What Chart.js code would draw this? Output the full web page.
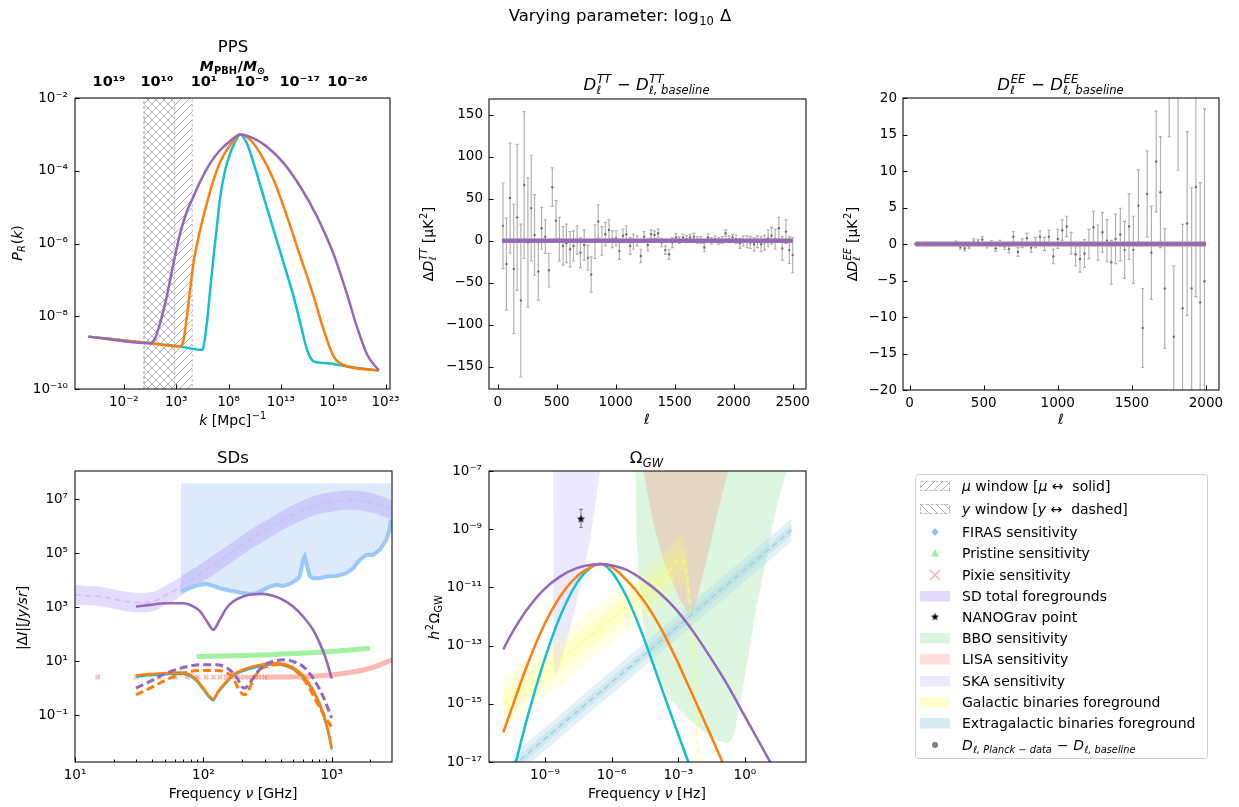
<!DOCTYPE html>
<html>
<head>
<meta charset="utf-8">
<title>Varying parameter: log10 Delta</title>
<script src="https://cdn.jsdelivr.net/npm/chart.js@4.4.1/dist/chart.umd.min.js"></script>
<style>
  html, body { margin:0; padding:0; background:#ffffff; }
  #wrap { position:relative; width:1239px; height:807px; overflow:hidden; background:#fff; }
  #wrap canvas { position:absolute; left:0; top:0; }
</style>
</head>
<body>
<div id="wrap">
  <canvas id="cPPS" width="1239" height="807"></canvas>
  <canvas id="cTT" width="1239" height="807"></canvas>
  <canvas id="cEE" width="1239" height="807"></canvas>
  <canvas id="cSD" width="1239" height="807"></canvas>
  <canvas id="cGW" width="1239" height="807"></canvas>
  <canvas id="cLeg" width="1239" height="807"></canvas>
</div>
<script>
// ======================= DATA =======================
// ---- PPS panel (log10 k [1/Mpc], log10 P_R) ----
const ppsXTickExp = [-2, 3, 8, 13, 18, 23];
const ppsYTickExp = [-10, -8, -6, -4, -2];
const pbhTickLogK = [-3.42, 1.15, 5.65, 10.24, 14.81, 19.36];
const pbhTickExp  = [19, 10, 1, -8, -17, -26];
const ppsPurpleLogK = [-5.39, 0.51, 0.99, 1.46, 2.10, 2.74, 3.38, 4.02, 4.65, 5.29, 6.25, 7.21, 8.16, 9.12, 10.40, 11.67, 13.27, 14.86, 16.46, 18.05, 19.33, 20.28, 21.24, 22.36];
const ppsPurpleLogP = [-8.56, -8.74, -8.60, -8.19, -7.46, -6.54, -5.72, -5.12, -4.71, -4.30, -3.79, -3.43, -3.18, -3.00, -3.11, -3.34, -3.79, -4.44, -5.26, -6.30, -7.40, -8.30, -9.05, -9.49];
const ppsOrangeLogK = [-5.39, 0.51, 3.38, 3.70, 4.02, 4.33, 4.65, 5.29, 5.93, 6.57, 7.21, 8.16, 9.12, 10.08, 11.03, 12.31, 13.59, 14.86, 16.14, 17.09, 18.05, 19.01, 22.36];
const ppsOrangeLogP = [-8.56, -8.74, -8.83, -8.65, -8.01, -7.27, -6.54, -5.63, -4.89, -4.25, -3.75, -3.29, -3.00, -3.15, -3.52, -4.25, -5.26, -6.36, -7.46, -8.37, -9.11, -9.34, -9.49];
const ppsCyanLogK = [-5.39, 0.51, 3.38, 5.29, 5.45, 5.61, 5.93, 6.25, 6.57, 6.89, 7.21, 7.68, 8.16, 8.64, 9.12, 9.76, 10.40, 11.35, 12.31, 13.27, 14.22, 14.86, 15.50, 16.14, 17.41, 19.33, 22.36];
const ppsCyanLogP = [-8.56, -8.74, -8.83, -8.92, -8.92, -8.83, -8.19, -7.27, -6.36, -5.53, -4.71, -3.98, -3.52, -3.20, -3.00, -3.25, -3.79, -4.71, -5.63, -6.54, -7.46, -8.19, -8.92, -9.24, -9.29, -9.38, -9.49];
const muWindowLogK = [-0.07, 4.53];
const yWindowLogK  = [-0.07, 2.85];

// ---- TT residuals ----
const ttEll = [45,74,105,136,165,196,224,256,284,312,344,372,403,434,463,494,523,554,582,613,642,673,701,733,764,792,824,852,883,912,943,971,1003,1031,1062,1090,1122,1150,1181,1213,1241,1272,1300,1329,1360,1389,1420,1452,1480,1511,1540,1571,1600,1631,1662,1691,1722,1751,1782,1811,1842,1871,1902,1931,1962,1990,2020,2053,2081,2113,2141,2173,2201,2232,2261,2292,2321,2352,2383,2412,2443,2472,2500];
const ttDelta = [17.9,-27.5,51,-33.4,28,-71,66.5,-2,39,7,-36.5,15,5,-35,64,24,2,-6,-3,-10,-6,1,-14,-5,-20,-40,-1,23,0,8,13,2,3,-12,6,8,-6,-1,0,-18,5,-5,8,7,9,-2,-11,-16,-2,4,1,4,2,4,5,1,1,-8,4,0,2,0,1,9,2,4,2,-3,0,-1,-2,-4,-1,-4,-2,3,6,2,15,-9,11,-11,-17];
const ttErr = [51,55,65.5,77,87,91,87.5,77,63,48,34,25,20,20,23,24,26,23,23,21,18,17,18,18,15,21,20,20,17,14,12,10,9,10,8,10,10,9,6,8,6,7,5,5,5,5,5,6,6,5,4,4,4,4,4,4,4,5,4,4,4,4,4,4,4,4,5,6,6,7,7,8,7,9,9,10,10,12,13,14,14,16,21];
const ttModelEll = [36, 2500];
const modelZero = [0, 0];
const ttXTicks = [0, 500, 1000, 1500, 2000, 2500];
const ttYTicks = [-150, -100, -50, 0, 50, 100, 150];

// ---- EE residuals ----
const eeEll = [40,70,100,130,160,190,220,250,280,312,343,372,401,433,462,491,522,552,581,610,641,670,700,731,760,791,820,850,880,910,940,970,1000,1030,1060,1090,1120,1150,1180,1210,1241,1271,1301,1332,1361,1390,1422,1451,1481,1510,1544,1573,1603,1632,1664,1693,1722,1752,1783,1812,1842,1873,1903,1932,1961,1990];
const eeDelta = [0,0,0,0,0,0.05,0,0.05,0,0.2,-0.4,-0.6,-0.3,0.3,0.3,0.6,-0.2,0.1,-0.6,0.1,-0.3,-0.7,1.0,-1.1,0.1,0.8,-0.5,0.2,1.0,0.0,1.0,-1.7,0.7,1.9,2.4,0.1,-1.4,-2.05,-1.3,0.0,2.3,0.2,1.6,0.45,-2.5,0.7,1.3,-0.8,2.4,-0.8,5.25,-11.5,6.85,-1.2,11.3,7.1,-6.1,23.2,-12.7,20.6,-8.8,2.8,-6.1,7.8,-8.0,-5.1];
const eeErr = [0.1,0.1,0.1,0.1,0.1,0.1,0.1,0.12,0.15,0.2,0.3,0.35,0.35,0.4,0.35,0.4,0.35,0.35,0.4,0.4,0.45,0.5,0.7,0.6,0.6,0.7,0.6,0.7,0.8,0.9,0.9,1.0,1.3,1.4,1.4,1.5,1.6,1.8,1.9,2.0,2.2,2.4,2.7,2.9,3.0,3.4,3.6,3.9,4.5,4.6,4.95,5.4,5.9,6.4,6.9,7.6,8.2,8.5,9.7,10.5,11.5,12.6,13.8,15,16.4,23.6];
const eeModelEll = [40, 2000];
const eeXTicks = [0, 500, 1000, 1500, 2000];
const eeYTicks = [-20, -15, -10, -5, 0, 5, 10, 15, 20];

// ---- SDs panel (log10 nu [GHz], log10 |dI| [Jy/sr]) ----
const sdXTickExp = [1, 2, 3];
const sdYTickExp = [-1, 1, 3, 5, 7];
const sdMinorNu = [20,30,40,50,60,70,80,90,200,300,400,500,600,700,800,900,2000];
const firasLogNu = [1.825,1.869,1.921,1.973,2.025,2.077,2.128,2.206,2.284,2.362,2.414,2.466,2.518,2.569,2.621,2.673,2.725,2.751,2.764,2.777,2.790,2.803,2.829,2.855,2.907,2.958,3.036,3.114,3.166,3.218,3.270,3.322,3.374,3.425,3.451,3.464];
const firasLogI  = [3.58,3.667,3.765,3.827,3.864,3.79,3.704,3.617,3.543,3.494,3.519,3.642,3.765,3.827,3.79,3.864,4.012,4.136,4.444,4.753,4.877,4.63,4.16,4.074,4.074,4.136,4.16,4.26,4.444,4.753,4.938,4.938,5.123,5.49,5.864,6.235];
const firasTopLogI = 7.59;
const fgLogNu = [1.0,1.09,1.195,1.30,1.40,1.51,1.61,1.69,1.765,1.84,1.92,2.0,2.10,2.23,2.36,2.49,2.62,2.75,2.88,3.01,3.14,3.27,3.37,3.47];
const fgCenterLogI = [3.46,3.43,3.40,3.30,3.21,3.17,3.21,3.40,3.58,3.83,4.07,4.32,4.63,5.06,5.49,5.86,6.23,6.54,6.79,6.91,6.98,6.91,6.79,6.60];
const fgUpperLogI  = [3.82,3.79,3.76,3.66,3.57,3.53,3.57,3.76,3.94,4.19,4.43,4.68,4.99,5.42,5.85,6.22,6.59,6.90,7.15,7.27,7.34,7.27,7.15,6.96];
const fgLowerLogI  = [3.10,3.07,3.04,2.94,2.85,2.81,2.85,3.04,3.22,3.47,3.71,3.96,4.27,4.70,5.13,5.50,5.87,6.18,6.43,6.55,6.62,6.55,6.43,6.24];
const pristineLogNu = [1.947,2.232,2.492,2.751,3.01,3.166,3.3];
const pristineLogI  = [1.173,1.198,1.235,1.296,1.358,1.42,1.481];
const pixieMarkNu = [15,30,45,60,75,90,105,120,135,150,165,180,195,210,225,240,255,270,285,300];
const pixieLevelLogI = 0.407;
const pixieLineLogNu = [2.48,2.75,2.88,3.01,3.14,3.27,3.374,3.47];
const pixieLineLogI  = [0.407,0.42,0.45,0.494,0.58,0.70,0.864,1.05];
const sdPurpleSolidLogNu = [1.475,1.584,1.713,1.843,1.921,1.973,2.038,2.077,2.128,2.18,2.232,2.31,2.388,2.466,2.543,2.621,2.699,2.777,2.855,2.907,2.958,3.0];
const sdPurpleSolidLogI  = [3.025,3.086,3.148,3.148,3.03,2.85,2.40,2.16,2.53,2.963,3.21,3.395,3.48,3.494,3.42,3.272,3.025,2.654,2.16,1.667,1.049,0.35];
const sdSolidLogNu = [1.475,1.584,1.713,1.817,1.895,1.947,1.999,2.038,2.077,2.115,2.18,2.232,2.31,2.388,2.492,2.569,2.647,2.725,2.803,2.881,2.933,2.971,3.0];
const sdOrangeSolidLogI = [0.469,0.519,0.556,0.58,0.494,0.309,0.0,-0.247,-0.407,-0.123,0.247,0.494,0.679,0.802,0.901,0.926,0.864,0.679,0.309,-0.309,-0.926,-1.543,-2.222];
const sdCyanSolidLogI   = [0.42,0.47,0.51,0.53,0.45,0.26,-0.05,-0.30,-0.46,-0.17,0.20,0.45,0.63,0.75,0.85,0.88,0.81,0.63,0.26,-0.36,-0.98,-1.60,-2.28];
const sdPurpleDashLogNu = [1.475,1.584,1.713,1.843,1.973,2.102,2.18,2.232,2.271,2.297,2.323,2.362,2.414,2.492,2.543,2.621,2.699,2.777,2.855,2.933,3.0];
const sdPurpleDashLogI  = [0.0,0.247,0.556,0.765,0.864,0.864,0.765,0.556,0.309,0.062,0.0,0.185,0.556,0.901,0.988,1.049,0.988,0.802,0.37,-0.309,-1.111];
const sdOrangeDashLogNu = [1.475,1.584,1.713,1.843,1.973,2.102,2.18,2.232,2.271,2.297,2.323,2.349,2.388,2.44,2.492,2.569,2.647,2.725,2.803,2.881,2.946,3.0];
const sdOrangeDashLogI  = [-0.247,0.0,0.309,0.556,0.654,0.654,0.58,0.37,0.0,-0.185,-0.247,-0.123,0.309,0.679,0.802,0.864,0.827,0.617,0.185,-0.494,-1.049,-1.444];

// ---- Omega_GW panel (log10 f [Hz], log10 h^2 Omega) ----
const gwXTickExp = [-9, -6, -3, 0];
const gwYTickExp = [-17, -15, -13, -11, -9, -7];
const gwPurpleLogF = [-10.875,-10.575,-9.825,-9.075,-8.325,-7.575,-6.825,-6.525,-6.075,-5.325,-4.575,-3.825,-3.075,-2.325,-1.575,-0.825,-0.075,0.675,1.28];
const gwPurpleLogO = [-13.13,-12.69,-11.78,-11.09,-10.63,-10.34,-10.21,-10.20,-10.23,-10.40,-10.75,-11.20,-11.78,-12.52,-13.38,-14.30,-15.33,-16.36,-17.2];
const gwOrangeLogF = [-10.875,-10.575,-9.825,-9.075,-8.325,-7.575,-6.825,-6.525,-6.075,-5.325,-4.575,-3.825,-3.075,-2.325,-1.575,-0.90];
const gwOrangeLogO = [-15.98,-15.33,-13.72,-12.35,-11.32,-10.63,-10.26,-10.20,-10.26,-10.75,-11.43,-12.35,-13.49,-14.75,-16.02,-17.2];
const gwCyanLogF = [-10.375,-9.825,-9.075,-8.325,-7.575,-6.975,-6.525,-6.075,-5.325,-4.575,-3.825,-3.075,-2.45];
const gwCyanLogO = [-17.2,-15.56,-13.61,-12.01,-10.86,-10.34,-10.20,-10.40,-11.32,-12.69,-14.30,-15.90,-17.2];
const skaLogF = [-8.63,-8.62,-8.58,-8.52,-8.325,-8.175,-7.875,-7.575,-7.275,-6.975,-6.75,-6.525,-6.40];
const skaLogO = [-6.5,-13.5,-13.95,-14.05,-13.66,-13.26,-12.41,-11.49,-10.52,-9.37,-8.23,-7.0,-6.5];
const bboLogF = [-4.93,-4.92,-4.875,-4.725,-4.575,-4.275,-3.825,-3.075,-2.325,-1.575,-0.825,-0.6,-0.45,-0.225,0.075,0.525,0.975,1.425,1.875,2.0];
const bboLogO = [-6.5,-7.0,-9.37,-11.09,-12.23,-13.38,-14.30,-15.10,-15.67,-16.13,-16.36,-16.25,-15.90,-14.98,-13.72,-11.66,-9.94,-8.23,-7.0,-6.5];
const lisaLogF = [-4.58,-4.575,-4.125,-3.675,-3.225,-2.925,-2.625,-2.43,-2.25,-2.175,-1.875,-1.575,-1.275,-0.975,-0.75,-0.62];
const lisaLogO = [-6.5,-7.0,-8.80,-10.06,-10.86,-11.43,-11.78,-11.95,-11.66,-11.43,-10.52,-9.60,-8.57,-7.65,-7.0,-6.5];
const galLogF = [-10.875,-9.075,-7.575,-6.075,-4.575,-3.675,-3.225,-3.0,-2.85,-2.70,-2.55,-2.445,-2.355,-2.25,-2.145,-2.055];
const galCenterLogO  = [-14.98,-13.95,-13.04,-12.12,-11.20,-10.63,-10.29,-10.06,-10.04,-10.29,-10.97,-11.89,-13.04,-14.53,-16.24,-17.27];
const galOuterUpLogO = [-14.11,-13.10,-12.20,-11.28,-10.36,-9.80,-9.46,-9.25,-9.22,-9.50,-10.30,-11.30,-12.60,-14.20,-16.00,-17.20];
const galOuterLoLogO = [-15.82,-14.79,-13.88,-12.96,-12.04,-11.47,-11.13,-10.90,-10.88,-11.10,-11.70,-12.50,-13.50,-14.90,-16.50,-17.40];
const galInnerUpLogO = [-14.56,-13.53,-12.62,-11.70,-10.78,-10.21,-9.87,-9.64,-9.62,-9.88,-10.60,-11.60,-12.80,-14.35,-16.10,-17.25];
const galInnerLoLogO = [-15.40,-14.37,-13.46,-12.54,-11.62,-11.05,-10.71,-10.48,-10.46,-10.70,-11.35,-12.20,-13.30,-14.70,-16.40,-17.35];
const egLogF = [-10.45, 2.10];
const egCenterLogO  = [-17.14, -9.03];
const egOuterUpLogO = [-16.74, -8.63];
const egOuterLoLogO = [-17.54, -9.43];
const egInnerUpLogO = [-16.96, -8.85];
const egInnerLoLogO = [-17.32, -9.21];
const nanoLogF = [-7.38];
const nanoLogO = [-8.65];
const nanoLoLogO = [-8.94];
const nanoHiLogO = [-8.32];

// ======================= HELPERS =======================
const FONT = '"DejaVu Sans", "Liberation Sans", sans-serif';
Chart.defaults.font.family = FONT;
const W = 1239, H = 807;
const C_PURPLE = '#9467bd', C_ORANGE = '#ff7f0e', C_CYAN = '#17becf';
const SUPMAP = {'0':'⁰','1':'¹','2':'²','3':'³','4':'⁴','5':'⁵','6':'⁶','7':'⁷','8':'⁸','9':'⁹','-':'⁻'};
const pow10Label = e => '10' + String(e).split('').map(c => SUPMAP[c]).join('');
const expOf = v => Math.round(Math.log10(v));
const L = v => Math.pow(10, v);
const pts = (xs, ys) => xs.map((x, i) => ({x: x, y: ys[i]}));
const ptsLog = (xs, ys) => xs.map((x, i) => ({x: L(x), y: L(ys[i])}));

function fnt(size, it, b) { return (it ? 'italic ' : '') + (b ? 'bold ' : '') + size.toFixed(2) + 'px ' + FONT; }
function drawRich(ctx, segs, x, y, size, align, rot, color) {
  ctx.save();
  ctx.translate(x, y);
  if (rot) ctx.rotate(rot);
  ctx.textBaseline = 'alphabetic'; ctx.textAlign = 'left'; ctx.fillStyle = color || '#000';
  const ss = size * 0.7;
  let w = 0; const pos = [];
  segs.forEach(s => {
    pos.push(w);
    if (s.t !== undefined) { ctx.font = fnt(size, s.i, s.b); w += ctx.measureText(s.t).width; }
    else {
      ctx.font = fnt(ss, s.i, s.b);
      const a = s.sup ? ctx.measureText(s.sup).width : 0;
      const b = s.sub ? ctx.measureText(s.sub).width : 0;
      w += Math.max(a, b) + size * 0.08;
    }
  });
  const x0 = align === 'left' ? 0 : (align === 'right' ? -w : -w / 2);
  segs.forEach((s, k) => {
    const px = x0 + pos[k];
    if (s.t !== undefined) { ctx.font = fnt(size, s.i, s.b); ctx.fillText(s.t, px, 0); }
    else {
      ctx.font = fnt(ss, s.i, s.b);
      if (s.sup) ctx.fillText(s.sup, px + size * 0.04, -size * 0.40);
      if (s.sub) ctx.fillText(s.sub, px + size * 0.02, size * 0.22);
    }
  });
  ctx.restore();
}

function axisCommon(pos, size, pad, fontOpts) {
  return {
    position: pos, bounds: 'data',
    grid: { display: false, drawTicks: false }, border: { display: false },
    ticks: { color: '#000', font: Object.assign({ family: FONT, size: 13.5 }, fontOpts || {}), padding: pad, autoSkip: false, maxRotation: 0, minRotation: 0 },
    afterFit: s => {
      if (pos === 'left' || pos === 'right') s.width = size; else s.height = size;
      s.paddingLeft = 0; s.paddingRight = 0; s.paddingTop = 0; s.paddingBottom = 0;
    }
  };
}
function logAxis(pos, size, pad, minE, maxE, tickE, labels, fontOpts) {
  const a = axisCommon(pos, size, pad, fontOpts);
  a.type = 'logarithmic'; a.min = L(minE); a.max = L(maxE);
  a.afterBuildTicks = s => { s.ticks = tickE.map(e => ({ value: L(e) })); };
  a.ticks.callback = (v, i) => labels ? pow10Label(labels[i]) : pow10Label(expOf(v));
  return a;
}
function linAxis(pos, size, pad, min, max, ticks) {
  const a = axisCommon(pos, size, pad);
  a.type = 'linear'; a.min = min; a.max = max;
  a.afterBuildTicks = s => { s.ticks = ticks.map(v => ({ value: v })); };
  a.ticks.callback = v => String(v).replace('-', '−');
  return a;
}
function ds(data, color, width, extra) {
  return Object.assign({
    type: 'line', data: data, borderColor: color, backgroundColor: color, borderWidth: width,
    pointRadius: 0, pointHoverRadius: 0, fill: false, cubicInterpolationMode: 'monotone',
    capBezierPoints: false, clip: 0, order: 5
  }, extra || {});
}
function framePlugin(minorX) {
  return { id: 'frame', afterDatasetsDraw(chart) {
    const ctx = chart.ctx, a = chart.chartArea, xs = chart.scales.x, ys = chart.scales.y;
    ctx.save(); ctx.strokeStyle = '#000'; ctx.lineWidth = 1; ctx.beginPath();
    xs.ticks.forEach(t => { const p = Math.round(xs.getPixelForValue(t.value)) + 0.5; ctx.moveTo(p, a.bottom); ctx.lineTo(p, a.bottom - 4.5); });
    ys.ticks.forEach(t => { const p = Math.round(ys.getPixelForValue(t.value)) + 0.5; ctx.moveTo(a.left, p); ctx.lineTo(a.left + 4.5, p); });
    (minorX || []).forEach(v => { const p = Math.round(xs.getPixelForValue(v)) + 0.5; ctx.moveTo(p, a.bottom); ctx.lineTo(p, a.bottom - 2.5); });
    ctx.stroke();
    ctx.lineWidth = 1.1; ctx.strokeStyle = '#111';
    ctx.strokeRect(a.left, a.top, a.right - a.left, a.bottom - a.top);
    ctx.restore();
  } };
}
function errorBarPlugin(xs, lo, hi, color, width, cap) {
  return { id: 'errbars', beforeDatasetsDraw(chart) {
    const ctx = chart.ctx, a = chart.chartArea, sx = chart.scales.x, sy = chart.scales.y;
    ctx.save(); ctx.beginPath(); ctx.rect(a.left, a.top, a.right - a.left, a.bottom - a.top); ctx.clip();
    ctx.strokeStyle = color; ctx.lineWidth = width; ctx.beginPath();
    xs.forEach((xv, i) => {
      const px = sx.getPixelForValue(xv), p1 = sy.getPixelForValue(hi[i]), p2 = sy.getPixelForValue(lo[i]);
      ctx.moveTo(px, p1); ctx.lineTo(px, p2);
      ctx.moveTo(px - cap, p1); ctx.lineTo(px + cap, p1);
      ctx.moveTo(px - cap, p2); ctx.lineTo(px + cap, p2);
    });
    ctx.stroke(); ctx.restore();
  } };
}
function textPlugin(items) {
  return { id: 'texts', afterDraw(chart) {
    items.forEach(it => drawRich(chart.ctx, it.segs, it.x, it.y, it.size, it.align || 'center', it.rot || 0));
  } };
}
function makeHatch(dir) {
  const s = 8, c = document.createElement('canvas'); c.width = s; c.height = s;
  const g = c.getContext('2d'); g.strokeStyle = 'rgba(175,175,175,0.95)'; g.lineWidth = 1; g.beginPath();
  for (let k = -1; k <= 1; k++) {
    if (dir === '/') { g.moveTo(k * s, s); g.lineTo(k * s + s, 0); }
    else { g.moveTo(k * s, 0); g.lineTo(k * s + s, s); }
  }
  g.stroke();
  return g.createPattern(c, 'repeat');
}
function starCanvas(r, color) {
  const s = Math.ceil(r * 2 + 2), c = document.createElement('canvas'); c.width = s; c.height = s;
  const g = c.getContext('2d'); g.fillStyle = color; g.beginPath();
  for (let i = 0; i < 10; i++) {
    const ang = -Math.PI / 2 + i * Math.PI / 5, rr = (i % 2) ? r * 0.42 : r;
    g.lineTo(s / 2 + rr * Math.cos(ang), s / 2 + rr * Math.sin(ang));
  }
  g.closePath(); g.fill();
  return c;
}
function makeChart(id, area, scales, datasets, plugins, topH) {
  return new Chart(document.getElementById(id), {
    type: 'line',
    data: { datasets: datasets },
    options: {
      responsive: false, maintainAspectRatio: false, animation: false, devicePixelRatio: 1, events: [],
      layout: { autoPadding: false, padding: { left: 0, right: W - area.r, top: area.t - (topH || 0), bottom: 0 } },
      plugins: { legend: { display: false }, tooltip: { enabled: false }, title: { display: false } },
      scales: scales
    },
    plugins: plugins
  });
}
const hatchMu = makeHatch('/');
const hatchY = makeHatch('\\');
const starImg = starCanvas(4.2, '#000');

// ======================= PPS =======================
const A_PPS = { l: 75, t: 98, r: 390, b: 389 };
const ppsMin = -6.67, ppsMax = 23.43;
const winRect = (k) => [{x: L(k[0]), y: 1e-10}, {x: L(k[0]), y: 1e-2}, {x: L(k[1]), y: 1e-2}, {x: L(k[1]), y: 1e-10}];
makeChart('cPPS', A_PPS, {
  x: logAxis('bottom', H - A_PPS.b, 5, ppsMin, ppsMax, ppsXTickExp),
  x2: logAxis('top', 30, 7, ppsMin, ppsMax, pbhTickLogK, pbhTickExp, { weight: 'bold', size: 14.5 }),
  y: logAxis('left', A_PPS.l, 7, -10, -2, ppsYTickExp)
}, [
  ds(winRect(muWindowLogK), 'rgba(180,180,180,0.9)', 1, { fill: 'start', backgroundColor: hatchMu, borderDash: [3, 2], tension: 0, cubicInterpolationMode: 'default', order: 11 }),
  ds(winRect(yWindowLogK), 'rgba(180,180,180,0.9)', 1, { fill: 'start', backgroundColor: hatchY, borderDash: [3, 2], tension: 0, cubicInterpolationMode: 'default', order: 10 }),
  ds(ptsLog(ppsCyanLogK, ppsCyanLogP), C_CYAN, 2.5, { order: 3 }),
  ds(ptsLog(ppsOrangeLogK, ppsOrangeLogP), C_ORANGE, 2.5, { order: 2 }),
  ds(ptsLog(ppsPurpleLogK, ppsPurpleLogP), C_PURPLE, 2.5, { order: 1 })
], [framePlugin(), textPlugin([
  { segs: [{ t: 'PPS' }], x: 233, y: 52, size: 16.5 },
  { segs: [{ t: 'M', i: 1, b: 1 }, { sub: 'PBH', b: 1 }, { t: '/', b: 1 }, { t: 'M', i: 1, b: 1 }, { sub: '⊙', b: 1 }], x: 233, y: 71, size: 14 },
  { segs: [{ t: 'k', i: 1 }, { t: ' [Mpc]' }, { sup: '−1' }], x: 233, y: 425, size: 14 },
  { segs: [{ t: 'P', i: 1 }, { sub: 'R', i: 1 }, { t: '(' }, { t: 'k', i: 1 }, { t: ')' }], x: 22, y: 243, size: 14, rot: -Math.PI / 2 }
])], 30);

// ======================= TT =======================
const A_TT = { l: 489, t: 99, r: 806, b: 389 };
makeChart('cTT', A_TT, {
  x: linAxis('bottom', H - A_TT.b, 5, -74, 2613, ttXTicks),
  y: linAxis('left', A_TT.l, 6, -176.5, 169, ttYTicks)
}, [
  ds(pts(ttEll, ttDelta), '#707070', 0, { showLine: false, pointRadius: 1.2, pointBackgroundColor: '#707070', pointBorderWidth: 0, order: 9 }),
  ds(pts(ttModelEll, modelZero), C_CYAN, 4, { order: 3, tension: 0, cubicInterpolationMode: 'default' }),
  ds(pts(ttModelEll, modelZero), C_ORANGE, 4, { order: 2, tension: 0, cubicInterpolationMode: 'default' }),
  ds(pts(ttModelEll, modelZero), C_PURPLE, 4, { order: 1, tension: 0, cubicInterpolationMode: 'default' })
], [
  errorBarPlugin(ttEll, ttDelta.map((d, i) => d - ttErr[i]), ttDelta.map((d, i) => d + ttErr[i]), 'rgba(135,135,135,0.65)', 1.2, 1.5),
  framePlugin(), textPlugin([
    { segs: [{ t: 'D', i: 1 }, { sub: 'ℓ', sup: 'TT', i: 1 }, { t: ' − ' }, { t: 'D', i: 1 }, { sub: 'ℓ, baseline', sup: 'TT', i: 1 }], x: 647, y: 90, size: 16.5 },
    { segs: [{ t: 'ℓ', i: 1 }], x: 647, y: 424, size: 14 },
    { segs: [{ t: 'Δ' }, { t: 'D', i: 1 }, { sub: 'ℓ', sup: 'TT', i: 1 }, { t: ' [μK' }, { sup: '2' }, { t: ']' }], x: 433, y: 244, size: 14, rot: -Math.PI / 2 }
  ])
]);

// ======================= EE =======================
const A_EE = { l: 903, t: 98, r: 1219, b: 390 };
makeChart('cEE', A_EE, {
  x: linAxis('bottom', H - A_EE.b, 5, -44.5, 2088, eeXTicks),
  y: linAxis('left', A_EE.l, 6, -20, 20, eeYTicks)
}, [
  ds(pts(eeEll, eeDelta), '#707070', 0, { showLine: false, pointRadius: 1.2, pointBackgroundColor: '#707070', pointBorderWidth: 0, order: 9 }),
  ds(pts(eeModelEll, modelZero), 'rgba(170,170,170,0.7)', 6, { order: 4, tension: 0, cubicInterpolationMode: 'default' }),
  ds(pts(eeModelEll, modelZero), C_CYAN, 3.5, { order: 3, tension: 0, cubicInterpolationMode: 'default' }),
  ds(pts(eeModelEll, modelZero), C_ORANGE, 3.5, { order: 2, tension: 0, cubicInterpolationMode: 'default' }),
  ds(pts(eeModelEll, modelZero), C_PURPLE, 3.5, { order: 1, tension: 0, cubicInterpolationMode: 'default' })
], [
  errorBarPlugin(eeEll, eeDelta.map((d, i) => d - eeErr[i]), eeDelta.map((d, i) => d + eeErr[i]), 'rgba(135,135,135,0.65)', 1.2, 1.5),
  framePlugin(), textPlugin([
    { segs: [{ t: 'D', i: 1 }, { sub: 'ℓ', sup: 'EE', i: 1 }, { t: ' − ' }, { t: 'D', i: 1 }, { sub: 'ℓ, baseline', sup: 'EE', i: 1 }], x: 1061, y: 90, size: 16.5 },
    { segs: [{ t: 'ℓ', i: 1 }], x: 1061, y: 424, size: 14 },
    { segs: [{ t: 'Δ' }, { t: 'D', i: 1 }, { sub: 'ℓ', sup: 'EE', i: 1 }, { t: ' [μK' }, { sup: '2' }, { t: ']' }], x: 857, y: 244, size: 14, rot: -Math.PI / 2 }
  ])
]);

// ======================= SDs =======================
const A_SD = { l: 75, t: 471, r: 392, b: 762 };
makeChart('cSD', A_SD, {
  x: logAxis('bottom', H - A_SD.b, 5, 1, 3.47, sdXTickExp),
  y: logAxis('left', A_SD.l, 7, -2.74, 8.05, sdYTickExp)
}, [
  ds(ptsLog(firasLogNu, firasLogI), 'rgba(0,0,0,0)', 0, { fill: { value: L(firasTopLogI) }, backgroundColor: 'rgba(100,160,240,0.22)', tension: 0, cubicInterpolationMode: 'default', order: 20 }),
  ds(ptsLog(fgLogNu, fgUpperLogI), 'rgba(0,0,0,0)', 0, { fill: '+1', backgroundColor: 'rgba(150,120,245,0.26)', order: 16 }),
  ds(ptsLog(fgLogNu, fgLowerLogI), 'rgba(0,0,0,0)', 0, { order: 17 }),
  ds(ptsLog(fgLogNu, fgCenterLogI), 'rgba(205,188,250,0.95)', 1.6, { borderDash: [6, 4], order: 15 }),
  ds(ptsLog(firasLogNu, firasLogI), 'rgba(150,198,250,0.95)', 4, { tension: 0, cubicInterpolationMode: 'default', order: 12 }),
  ds(ptsLog(pristineLogNu, pristineLogI), 'rgba(144,238,144,0.85)', 5, { order: 11 }),
  ds(pixieMarkNu.map(v => ({ x: v, y: L(pixieLevelLogI) })), 'rgba(250,128,114,0.55)', 0, { showLine: false, pointRadius: 3, pointStyle: 'crossRot', pointBorderWidth: 2, pointBorderColor: 'rgba(250,128,114,0.5)', order: 10 }),
  ds(ptsLog(pixieLineLogNu, pixieLineLogI), 'rgba(250,128,114,0.55)', 5, { order: 10 }),
  ds(ptsLog(sdSolidLogNu, sdCyanSolidLogI), C_CYAN, 2.2, { order: 6 }),
  ds(ptsLog(sdSolidLogNu, sdOrangeSolidLogI), C_ORANGE, 2.6, { order: 5 }),
  ds(ptsLog(sdPurpleSolidLogNu, sdPurpleSolidLogI), C_PURPLE, 2.6, { order: 4 }),
  ds(ptsLog(sdOrangeDashLogNu, sdOrangeDashLogI), C_ORANGE, 3, { borderDash: [8, 4], order: 3 }),
  ds(ptsLog(sdPurpleDashLogNu, sdPurpleDashLogI), C_PURPLE, 3, { borderDash: [8, 4], order: 2 })
], [framePlugin(sdMinorNu), textPlugin([
  { segs: [{ t: 'SDs' }], x: 233, y: 463, size: 16.5 },
  { segs: [{ t: 'Frequency ' }, { t: 'ν', i: 1 }, { t: ' [GHz]' }], x: 233, y: 798, size: 14 },
  { segs: [{ t: '|Δ' }, { t: 'I', i: 1 }, { t: '|[' }, { t: 'Jy/sr', i: 1 }, { t: ']' }], x: 27, y: 618, size: 14, rot: -Math.PI / 2 }
])]);

// ======================= Omega_GW =======================
const A_GW = { l: 489, t: 471, r: 806, b: 762 };
const clear = 'rgba(0,0,0,0)';
makeChart('cGW', A_GW, {
  x: logAxis('bottom', H - A_GW.b, 5, -11.52, 2.75, gwXTickExp),
  y: logAxis('left', A_GW.l, 7, -17, -7, gwYTickExp)
}, [
  ds(ptsLog(bboLogF, bboLogO), clear, 0, { fill: 'end', backgroundColor: 'rgba(120,220,130,0.25)', tension: 0, cubicInterpolationMode: 'default', order: 30 }),
  ds(ptsLog(lisaLogF, lisaLogO), clear, 0, { fill: 'end', backgroundColor: 'rgba(250,128,114,0.25)', tension: 0, cubicInterpolationMode: 'default', order: 29 }),
  ds(ptsLog(skaLogF, skaLogO), clear, 0, { fill: 'end', backgroundColor: 'rgba(150,130,245,0.18)', tension: 0, cubicInterpolationMode: 'default', order: 28 }),
  ds(ptsLog(galLogF, galOuterUpLogO), clear, 0, { fill: '+1', backgroundColor: 'rgba(255,255,90,0.16)', order: 27 }),
  ds(ptsLog(galLogF, galOuterLoLogO), clear, 0, { order: 26 }),
  ds(ptsLog(galLogF, galInnerUpLogO), clear, 0, { fill: '+1', backgroundColor: 'rgba(255,255,90,0.18)', order: 25 }),
  ds(ptsLog(galLogF, galInnerLoLogO), clear, 0, { order: 24 }),
  ds(ptsLog(galLogF, galCenterLogO), 'rgba(255,255,110,0.75)', 1.5, { borderDash: [6, 4], order: 23 }),
  ds(ptsLog(egLogF, egOuterUpLogO), clear, 0, { fill: '+1', backgroundColor: 'rgba(173,216,230,0.35)', tension: 0, cubicInterpolationMode: 'default', order: 22 }),
  ds(ptsLog(egLogF, egOuterLoLogO), clear, 0, { tension: 0, cubicInterpolationMode: 'default', order: 21 }),
  ds(ptsLog(egLogF, egInnerUpLogO), clear, 0, { fill: '+1', backgroundColor: 'rgba(173,216,230,0.35)', tension: 0, cubicInterpolationMode: 'default', order: 20 }),
  ds(ptsLog(egLogF, egInnerLoLogO), clear, 0, { tension: 0, cubicInterpolationMode: 'default', order: 19 }),
  ds(ptsLog(egLogF, egCenterLogO), 'rgba(160,205,225,0.95)', 1.6, { borderDash: [6, 4], tension: 0, cubicInterpolationMode: 'default', order: 18 }),
  ds(ptsLog(nanoLogF, nanoLogO), '#000', 0, { showLine: false, pointRadius: 4, pointStyle: starImg, order: 5 }),
  ds(ptsLog(gwCyanLogF, gwCyanLogO), C_CYAN, 2.5, { order: 3 }),
  ds(ptsLog(gwOrangeLogF, gwOrangeLogO), C_ORANGE, 2.5, { order: 2 }),
  ds(ptsLog(gwPurpleLogF, gwPurpleLogO), C_PURPLE, 2.5, { order: 1 })
], [
  errorBarPlugin(nanoLogF.map(L), nanoLoLogO.map(L), nanoHiLogO.map(L), 'rgba(110,110,110,0.9)', 1.1, 1.8),
  framePlugin(), textPlugin([
    { segs: [{ t: 'Ω' }, { sub: 'GW', i: 1 }], x: 647, y: 463, size: 16.5 },
    { segs: [{ t: 'Frequency ' }, { t: 'ν', i: 1 }, { t: ' [Hz]' }], x: 647, y: 798, size: 14 },
    { segs: [{ t: 'h', i: 1 }, { sup: '2' }, { t: 'Ω' }, { sub: 'GW' }], x: 439, y: 617, size: 14, rot: -Math.PI / 2 }
  ])
]);

// ======================= LEGEND + SUPTITLE =======================
const legendRowsY = [486, 509, 532, 553, 575, 596, 617, 638, 659, 681, 702, 723, 745];
const legendLabels = [
  [{ t: 'μ', i: 1 }, { t: ' window [' }, { t: 'μ', i: 1 }, { t: ' ↔  solid]' }],
  [{ t: 'y', i: 1 }, { t: ' window [' }, { t: 'y', i: 1 }, { t: ' ↔  dashed]' }],
  [{ t: 'FIRAS sensitivity' }],
  [{ t: 'Pristine sensitivity' }],
  [{ t: 'Pixie sensitivity' }],
  [{ t: 'SD total foregrounds' }],
  [{ t: 'NANOGrav point' }],
  [{ t: 'BBO sensitivity' }],
  [{ t: 'LISA sensitivity' }],
  [{ t: 'SKA sensitivity' }],
  [{ t: 'Galactic binaries foreground' }],
  [{ t: 'Extragalactic binaries foreground' }],
  [{ t: 'D', i: 1 }, { sub: 'ℓ, Planck − data', i: 1 }, { t: ' − ' }, { t: 'D', i: 1 }, { sub: 'ℓ, baseline', i: 1 }]
];
const legendHandles = [
  { k: 'hatch', p: hatchMu }, { k: 'hatch', p: hatchY },
  { k: 'diamond', c: 'rgba(135,188,248,0.95)' }, { k: 'tri', c: 'rgba(144,238,144,0.9)' },
  { k: 'x', c: 'rgba(250,128,114,0.6)' }, { k: 'rect', c: 'rgba(150,120,245,0.28)' },
  { k: 'star' }, { k: 'rect', c: 'rgba(120,220,130,0.25)' }, { k: 'rect', c: 'rgba(250,128,114,0.25)' },
  { k: 'rect', c: 'rgba(150,130,245,0.18)' }, { k: 'rect', c: 'rgba(255,255,90,0.3)' },
  { k: 'rect', c: 'rgba(173,216,230,0.5)' }, { k: 'dot', c: '#808080' }
];
const legendPlugin = { id: 'legendPanel', afterDraw(chart) {
  const ctx = chart.ctx;
  drawRich(ctx, [{ t: 'Varying parameter: log' }, { sub: '10' }, { t: ' Δ' }], 620, 21, 16.5, 'center');
  ctx.save();
  ctx.fillStyle = 'rgba(255,255,255,0.85)'; ctx.strokeStyle = '#cfcfcf'; ctx.lineWidth = 1;
  ctx.beginPath(); ctx.roundRect(915.5, 474.5, 292, 284, 3); ctx.fill(); ctx.stroke();
  const hx = 920, hw = 30, cx = 935;
  legendHandles.forEach((h, i) => {
    const y = legendRowsY[i];
    ctx.save();
    if (h.k === 'hatch') {
      ctx.fillStyle = h.p; ctx.fillRect(hx, y - 5, hw, 10);
      ctx.strokeStyle = 'rgba(180,180,180,0.9)'; ctx.setLineDash([3, 2]); ctx.lineWidth = 1;
      ctx.strokeRect(hx + 0.5, y - 4.5, hw - 1, 9);
    } else if (h.k === 'rect') {
      ctx.fillStyle = h.c; ctx.fillRect(hx, y - 5, hw, 10.5);
    } else if (h.k === 'diamond') {
      ctx.fillStyle = h.c; ctx.beginPath(); ctx.moveTo(cx, y - 4); ctx.lineTo(cx + 3.5, y); ctx.lineTo(cx, y + 4); ctx.lineTo(cx - 3.5, y); ctx.closePath(); ctx.fill();
    } else if (h.k === 'tri') {
      ctx.fillStyle = h.c; ctx.beginPath(); ctx.moveTo(cx, y - 4); ctx.lineTo(cx + 4, y + 3.5); ctx.lineTo(cx - 4, y + 3.5); ctx.closePath(); ctx.fill();
    } else if (h.k === 'x') {
      ctx.strokeStyle = h.c; ctx.lineWidth = 1.4; ctx.beginPath();
      ctx.moveTo(cx - 5, y - 5); ctx.lineTo(cx + 5, y + 5); ctx.moveTo(cx - 5, y + 5); ctx.lineTo(cx + 5, y - 5); ctx.stroke();
    } else if (h.k === 'star') {
      ctx.drawImage(starImg, cx - starImg.width / 2, y - starImg.height / 2);
    } else if (h.k === 'dot') {
      ctx.fillStyle = h.c; ctx.beginPath(); ctx.arc(cx, y, 3, 0, Math.PI * 2); ctx.fill();
    }
    ctx.restore();
    drawRich(ctx, legendLabels[i], 962, y + 5, 14, 'left');
  });
  ctx.restore();
} };
new Chart(document.getElementById('cLeg'), {
  type: 'line', data: { datasets: [] },
  options: { responsive: false, animation: false, devicePixelRatio: 1, events: [],
    scales: { x: { display: false }, y: { display: false } },
    plugins: { legend: { display: false }, tooltip: { enabled: false } } },
  plugins: [legendPlugin]
});
</script>
</body>
</html>
